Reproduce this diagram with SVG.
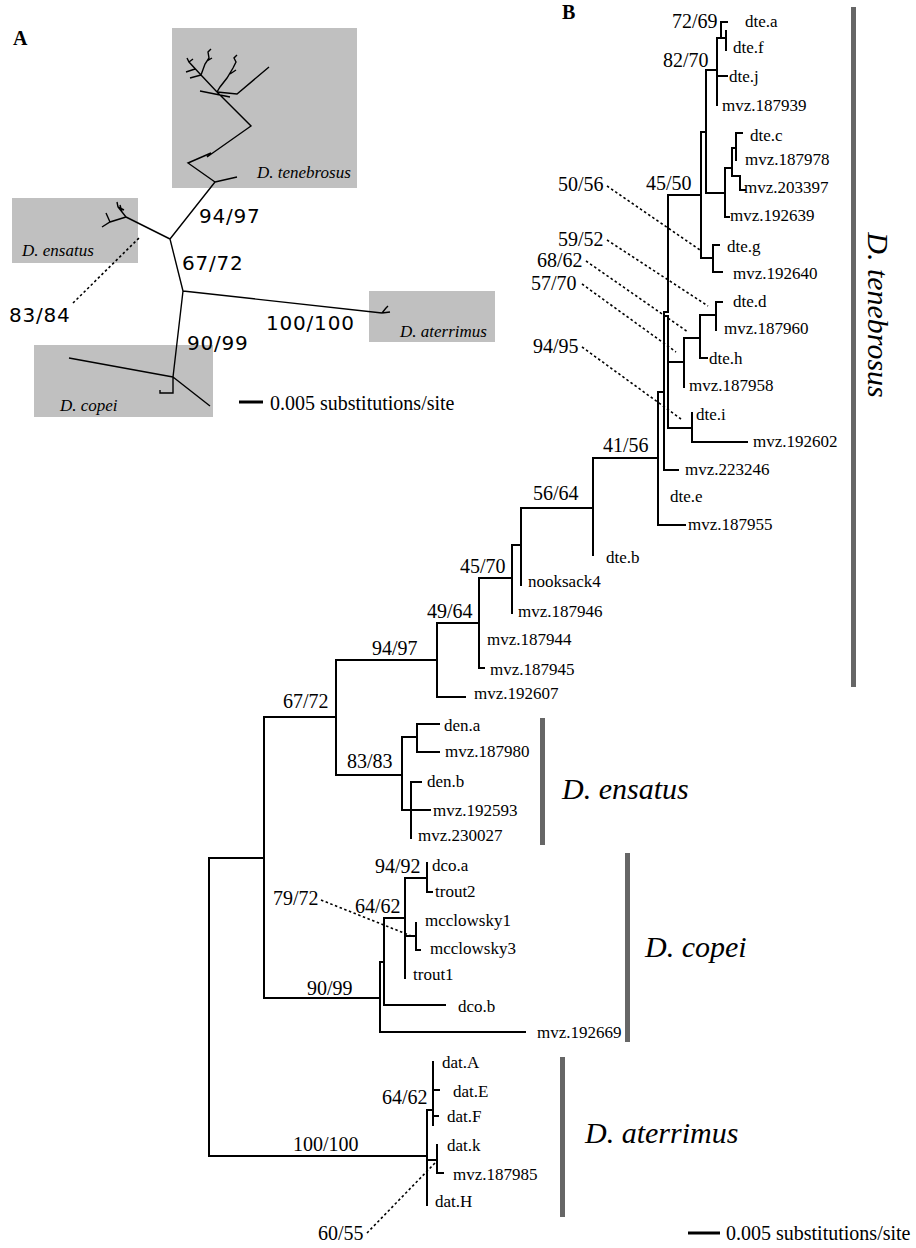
<svg xmlns="http://www.w3.org/2000/svg" width="916" height="1248" viewBox="0 0 916 1248">
<style>
.br{stroke:#000;stroke-width:2;fill:none;stroke-linecap:square}
.ba{stroke:#000;stroke-width:1.4;fill:none}
.dash{stroke:#000;stroke-width:1.6;stroke-dasharray:2.5 2.5;fill:none}
.leaf{font-family:"Liberation Serif","Times New Roman",serif;font-size:17px;fill:#000}
.sup{font-family:"Liberation Serif","Times New Roman",serif;font-size:20px;fill:#000}
.supA{font-family:"DejaVu Sans",Verdana,sans-serif;font-size:20px;letter-spacing:0.8px;fill:#000}
.clade{font-family:"Liberation Serif","Times New Roman",serif;font-style:italic;font-size:30px;fill:#000}
.cladeA{font-family:"Liberation Serif","Times New Roman",serif;font-style:italic;font-size:17px;fill:#000}
.panel{font-family:"Liberation Serif","Times New Roman",serif;font-weight:bold;font-size:20px;fill:#000}
.scale{font-family:"Liberation Serif","Times New Roman",serif;font-size:20px;fill:#000}
.bar{fill:#666}
.box{fill:#c0c0c0}
</style>
<rect width="916" height="1248" fill="#fff"/>

<!-- Panel A -->
<g id="panelA-label"><text class="panel" x="13" y="45">A</text></g>
<g id="A-tenebrosus"><rect class="box" x="172" y="28" width="185" height="160"/><text class="cladeA" x="257" y="178">D. tenebrosus</text></g>
<g id="A-ensatus"><rect class="box" x="12" y="198" width="126" height="65"/><text class="cladeA" x="22" y="256">D. ensatus</text></g>
<g id="A-aterrimus"><rect class="box" x="369" y="291" width="126" height="51"/><text class="cladeA" x="400" y="337">D. aterrimus</text></g>
<g id="A-copei"><rect class="box" x="34" y="345" width="179" height="72"/><text class="cladeA" x="60" y="411">D. copei</text></g>
<g id="A-supports">
<text class="supA" x="199" y="223">94/97</text>
<text class="supA" x="182" y="270">67/72</text>
<text class="supA" x="9" y="322">83/84</text>
<text class="supA" x="266" y="330">100/100</text>
<text class="supA" x="187" y="350">90/99</text>
</g>
<g id="A-scale"><path d="M239,402 H263" stroke="#000" stroke-width="3"/><text class="scale" x="270" y="410">0.005 substitutions/site</text></g>
<g id="A-connectors">
<path class="ba" d="M170,239 L215,182 M170,239 L126,217 M170,239 L183,291 M183,291 L382,313 M183,291 L173,377"/>
<path class="ba" d="M126,217 L118,207 L117,202 M118,207 L124,210 M122,212 L120,205 M126,217 L110,222 L102,227 M110,222 L106,213"/>
<path class="ba" d="M382,313 L386,308 M382,313 L390,312 M386,308 L388,306"/>
<path class="ba" d="M173,377 L69,358 M173,377 L210,406 M173,377 L173,393 L160,393 L160,390"/>
<path class="ba" d="M215,182 L237,177 M215,182 L188,163 L211,153 L207,157 L251,126 L217,92 M200,91 L230,97 M217,92 L237,94 L269,67"/>
<path class="ba" d="M217,92 L201,75 L189,62 L187,58 M189,62 L193,59 M195,69 L186,72 M201,75 L190,78 M201,75 L205,64 L209,58 L208,52 L211,49 M207,61 L212,58"/>
<path class="ba" d="M217,92 L220,87 L227,78 L233,68 L236,62 L234,58 L237,55 M230,74 L236,70"/>
<path class="dash" d="M73,303 L140,237"/>
</g>

<!-- Panel B -->
<g id="panelB-label"><text class="panel" x="562" y="19">B</text></g>

<g id="B-connectors">
<path class="br" d="M209,858 V1156 M209,858 H264 M264,717 V998 M264,717 H336 M336,660 V775"/>
<path class="br" d="M336,660 H437 M437,623 V697 H465 M437,623 H479 M479,578 V668 H484 M479,578 H512 M512,545 V613 M512,545 H521 M521,508 V585 M521,508 H593 M593,458 V555 M593,458 H658"/>
<path class="br" d="M658,392 V525 H685 M658,392 H664 M664,312 V470 H678 M664,312 H668 M668,195 V312 M664,316 H668 V428"/>
<path class="br" d="M668,362 H684 M684,338 V387 M684,338 H700 M700,315 V358 H707 M700,315 H716 M716,302 V330 M716,302 H722"/>
<path class="br" d="M668,428 H692 M692,413 V442 H747"/>
<path class="br" d="M668,195 H701 M701,132 V258 M701,258 H713 M713,245 V272 H722 M713,245 H719"/>
<path class="br" d="M701,132 H706 M706,70 V193 M706,70 H717 M717,38 V105 M717,76 H727 M717,38 H726 M726,31 V50 M721,38 V22 H727"/>
<path class="br" d="M706,193 H725 M725,168 V217 H729 M725,168 H732 M732,148 V176 H740 V190 H745 M732,148 H736 M736,133 V160 M736,133 H742"/>
<path class="br" d="M336,775 H402 M402,737 V810 M402,737 H417 M417,724 V752 M417,724 H439 M417,752 H439 M402,810 H430 M411,782 V838 M411,782 H421"/>
<path class="br" d="M264,998 H380 M380,962 V1032 H525 M380,962 H384 M384,918 V1005 H445 M384,918 H405 M405,878 V978 M405,878 H427 M427,863 V892 H432 M405,936 H416 M416,923 V950 H420"/>
<path class="br" d="M209,1156 H427 M427,1110 V1205 M427,1110 H433 M433,1062 V1125 M433,1090 H439 M433,1116 H438 M427,1160 H437 M437,1145 V1173 H443"/>
<path class="dash" d="M607,186 L700,250 M607,240 L708,306 M586,261 L688,332 M582,284 L676,352 M582,347 L681,419 M321,900 L414,937 M367,1233 L435,1163"/>
</g>

<g id="B-supports">
<text class="sup" x="672" y="28">72/69</text>
<text class="sup" x="663" y="67">82/70</text>
<text class="sup" x="646" y="190">45/50</text>
<text class="sup" x="558" y="191">50/56</text>
<text class="sup" x="558" y="246">59/52</text>
<text class="sup" x="537" y="267">68/62</text>
<text class="sup" x="531" y="290">57/70</text>
<text class="sup" x="533" y="353">94/95</text>
<text class="sup" x="603" y="452">41/56</text>
<text class="sup" x="533" y="500">56/64</text>
<text class="sup" x="460" y="573">45/70</text>
<text class="sup" x="427" y="618">49/64</text>
<text class="sup" x="372" y="655">94/97</text>
<text class="sup" x="283" y="708">67/72</text>
<text class="sup" x="347" y="768">83/83</text>
<text class="sup" x="375" y="873">94/92</text>
<text class="sup" x="273" y="905">79/72</text>
<text class="sup" x="355" y="913">64/62</text>
<text class="sup" x="307" y="995">90/99</text>
<text class="sup" x="382" y="1104">64/62</text>
<text class="sup" x="293" y="1151">100/100</text>
<text class="sup" x="318" y="1240">60/55</text>
</g>

<g id="leaf-dte.a"><text class="leaf" x="745" y="27">dte.a</text></g>
<g id="leaf-dte.f"><text class="leaf" x="733" y="53">dte.f</text></g>
<g id="leaf-dte.j"><text class="leaf" x="729" y="82">dte.j</text></g>
<g id="leaf-mvz.187939"><text class="leaf" x="722" y="111">mvz.187939</text></g>
<g id="leaf-dte.c"><text class="leaf" x="750" y="141">dte.c</text></g>
<g id="leaf-mvz.187978"><text class="leaf" x="745" y="165">mvz.187978</text></g>
<g id="leaf-mvz.203397"><text class="leaf" x="744" y="193">mvz.203397</text></g>
<g id="leaf-mvz.192639"><text class="leaf" x="730" y="221">mvz.192639</text></g>
<g id="leaf-dte.g"><text class="leaf" x="727" y="252">dte.g</text></g>
<g id="leaf-mvz.192640"><text class="leaf" x="733" y="279">mvz.192640</text></g>
<g id="leaf-dte.d"><text class="leaf" x="733" y="307">dte.d</text></g>
<g id="leaf-mvz.187960"><text class="leaf" x="724" y="334">mvz.187960</text></g>
<g id="leaf-dte.h"><text class="leaf" x="709" y="364">dte.h</text></g>
<g id="leaf-mvz.187958"><text class="leaf" x="689" y="391">mvz.187958</text></g>
<g id="leaf-dte.i"><text class="leaf" x="696" y="420">dte.i</text></g>
<g id="leaf-mvz.192602"><text class="leaf" x="753" y="447">mvz.192602</text></g>
<g id="leaf-mvz.223246"><text class="leaf" x="685" y="475">mvz.223246</text></g>
<g id="leaf-dte.e"><text class="leaf" x="670" y="502">dte.e</text></g>
<g id="leaf-mvz.187955"><text class="leaf" x="688" y="530">mvz.187955</text></g>
<g id="leaf-dte.b"><text class="leaf" x="606" y="563">dte.b</text></g>
<g id="leaf-nooksack4"><text class="leaf" x="528" y="587">nooksack4</text></g>
<g id="leaf-mvz.187946"><text class="leaf" x="518" y="617">mvz.187946</text></g>
<g id="leaf-mvz.187944"><text class="leaf" x="487" y="645">mvz.187944</text></g>
<g id="leaf-mvz.187945"><text class="leaf" x="490" y="675">mvz.187945</text></g>
<g id="leaf-mvz.192607"><text class="leaf" x="474" y="699">mvz.192607</text></g>
<g id="leaf-den.a"><text class="leaf" x="444" y="731">den.a</text></g>
<g id="leaf-mvz.187980"><text class="leaf" x="445" y="757">mvz.187980</text></g>
<g id="leaf-den.b"><text class="leaf" x="427" y="787">den.b</text></g>
<g id="leaf-mvz.192593"><text class="leaf" x="433" y="816">mvz.192593</text></g>
<g id="leaf-mvz.230027"><text class="leaf" x="418" y="841">mvz.230027</text></g>
<g id="leaf-dco.a"><text class="leaf" x="432" y="871">dco.a</text></g>
<g id="leaf-trout2"><text class="leaf" x="435" y="897">trout2</text></g>
<g id="leaf-mcclowsky1"><text class="leaf" x="425" y="926">mcclowsky1</text></g>
<g id="leaf-mcclowsky3"><text class="leaf" x="430" y="954">mcclowsky3</text></g>
<g id="leaf-trout1"><text class="leaf" x="413" y="980">trout1</text></g>
<g id="leaf-dco.b"><text class="leaf" x="458" y="1012">dco.b</text></g>
<g id="leaf-mvz.192669"><text class="leaf" x="537" y="1038">mvz.192669</text></g>
<g id="leaf-dat.A"><text class="leaf" x="442" y="1068">dat.A</text></g>
<g id="leaf-dat.E"><text class="leaf" x="453" y="1097">dat.E</text></g>
<g id="leaf-dat.F"><text class="leaf" x="447" y="1122">dat.F</text></g>
<g id="leaf-dat.k"><text class="leaf" x="447" y="1151">dat.k</text></g>
<g id="leaf-mvz.187985"><text class="leaf" x="453" y="1180">mvz.187985</text></g>
<g id="leaf-dat.H"><text class="leaf" x="435" y="1207">dat.H</text></g>

<g id="B-tenebrosus"><rect class="bar" x="851" y="7" width="5" height="680"/><text class="clade" font-size="33" text-anchor="middle" transform="translate(868,315) rotate(90)">D. tenebrosus</text></g>
<g id="B-ensatus"><rect class="bar" x="540" y="718" width="5" height="127"/><text class="clade" x="562" y="799">D. ensatus</text></g>
<g id="B-copei"><rect class="bar" x="625" y="853" width="5" height="189"/><text class="clade" x="645" y="957">D. copei</text></g>
<g id="B-aterrimus"><rect class="bar" x="560" y="1057" width="5" height="160"/><text class="clade" x="585" y="1143">D. aterrimus</text></g>
<g id="B-scale"><path d="M688,1233 H720" stroke="#000" stroke-width="3"/><text class="scale" x="726" y="1240">0.005 substitutions/site</text></g>
</svg>
